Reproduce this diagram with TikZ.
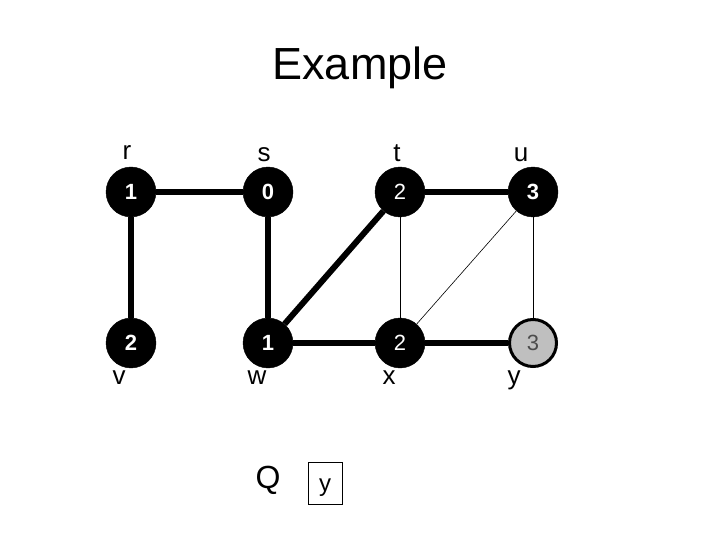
\documentclass[tikz,border=0pt]{standalone}
\usepackage{fontspec}
\setmainfont{Liberation Sans}
\usetikzlibrary{positioning}

\tikzset{
    vert/.style={draw=black, fill=black, circle, minimum size=50pt, inner sep=0pt, text=white, font=\fontsize{22}{22}\selectfont},
    tree/.style={line width=6pt},
    thin/.style={line width=0.6pt},
    lbl/.style={font=\fontsize{26}{26}\selectfont}
}

\begin{document}
\begin{tikzpicture}[x=1pt, y=-1pt]
    \useasboundingbox (0,0) rectangle (720,540);
    % Title
    \node[font=\fontsize{45}{45}\selectfont] (title) at (360,68) {Example};

    % Vertices
    \node[vert, font=\fontsize{22}{22}\bfseries] (r) at (131,192) {1};
    \node[vert, font=\fontsize{22}{22}\bfseries] (s) at (268,192) {0};
    \node[vert] (t) at (400,192) {2};
    \node[vert, font=\fontsize{22}{22}\bfseries] (u) at (533,192) {3};
    \node[vert, font=\fontsize{22}{22}\bfseries] (v) at (131,343) {2};
    \node[vert, font=\fontsize{22}{22}\bfseries] (w) at (268,343) {1};
    \node[vert] (x) at (400,343) {2};
    \node[vert, fill=black!25, text=black!70, line width=3pt, minimum size=47pt] (y) at (533,343) {3};

    % Names
    \node[lbl] (rl) at (127,153) {r};
    \node[lbl] (sl) at (264,155) {s};
    \node[lbl] (tl) at (397,153) {t};
    \node[lbl] (ul) at (521,155) {u};
    \node[lbl] (vl) at (119,378) {v};
    \node[lbl] (wl) at (257,378) {w};
    \node[lbl] (xl) at (389,378) {x};
    \node[lbl] (yl) at (514,380) {y};

    % Edges
    \draw[tree] (r) -- (s);
    \draw[tree] (r) -- (v);
    \draw[tree] (s) -- (w);
    \draw[tree] (w) -- (t);
    \draw[tree] (w) -- (x);
    \draw[tree] (x) -- (y);
    \draw[tree] (t) -- (u);
    \draw[thin] (t) -- (x);
    \draw[thin] (x) -- (u);
    \draw[thin] (u) -- (y);

    % Queue
    \node[font=\fontsize{32}{32}\selectfont] (q) at (268,480) {Q};
    \node[draw, line width=0.8pt, minimum width=34pt, minimum height=42pt, inner sep=0pt, text height=16pt, text depth=0pt, font=\fontsize{24}{24}\selectfont] (qy) at (325,483) {y};
\end{tikzpicture}
\end{document}
